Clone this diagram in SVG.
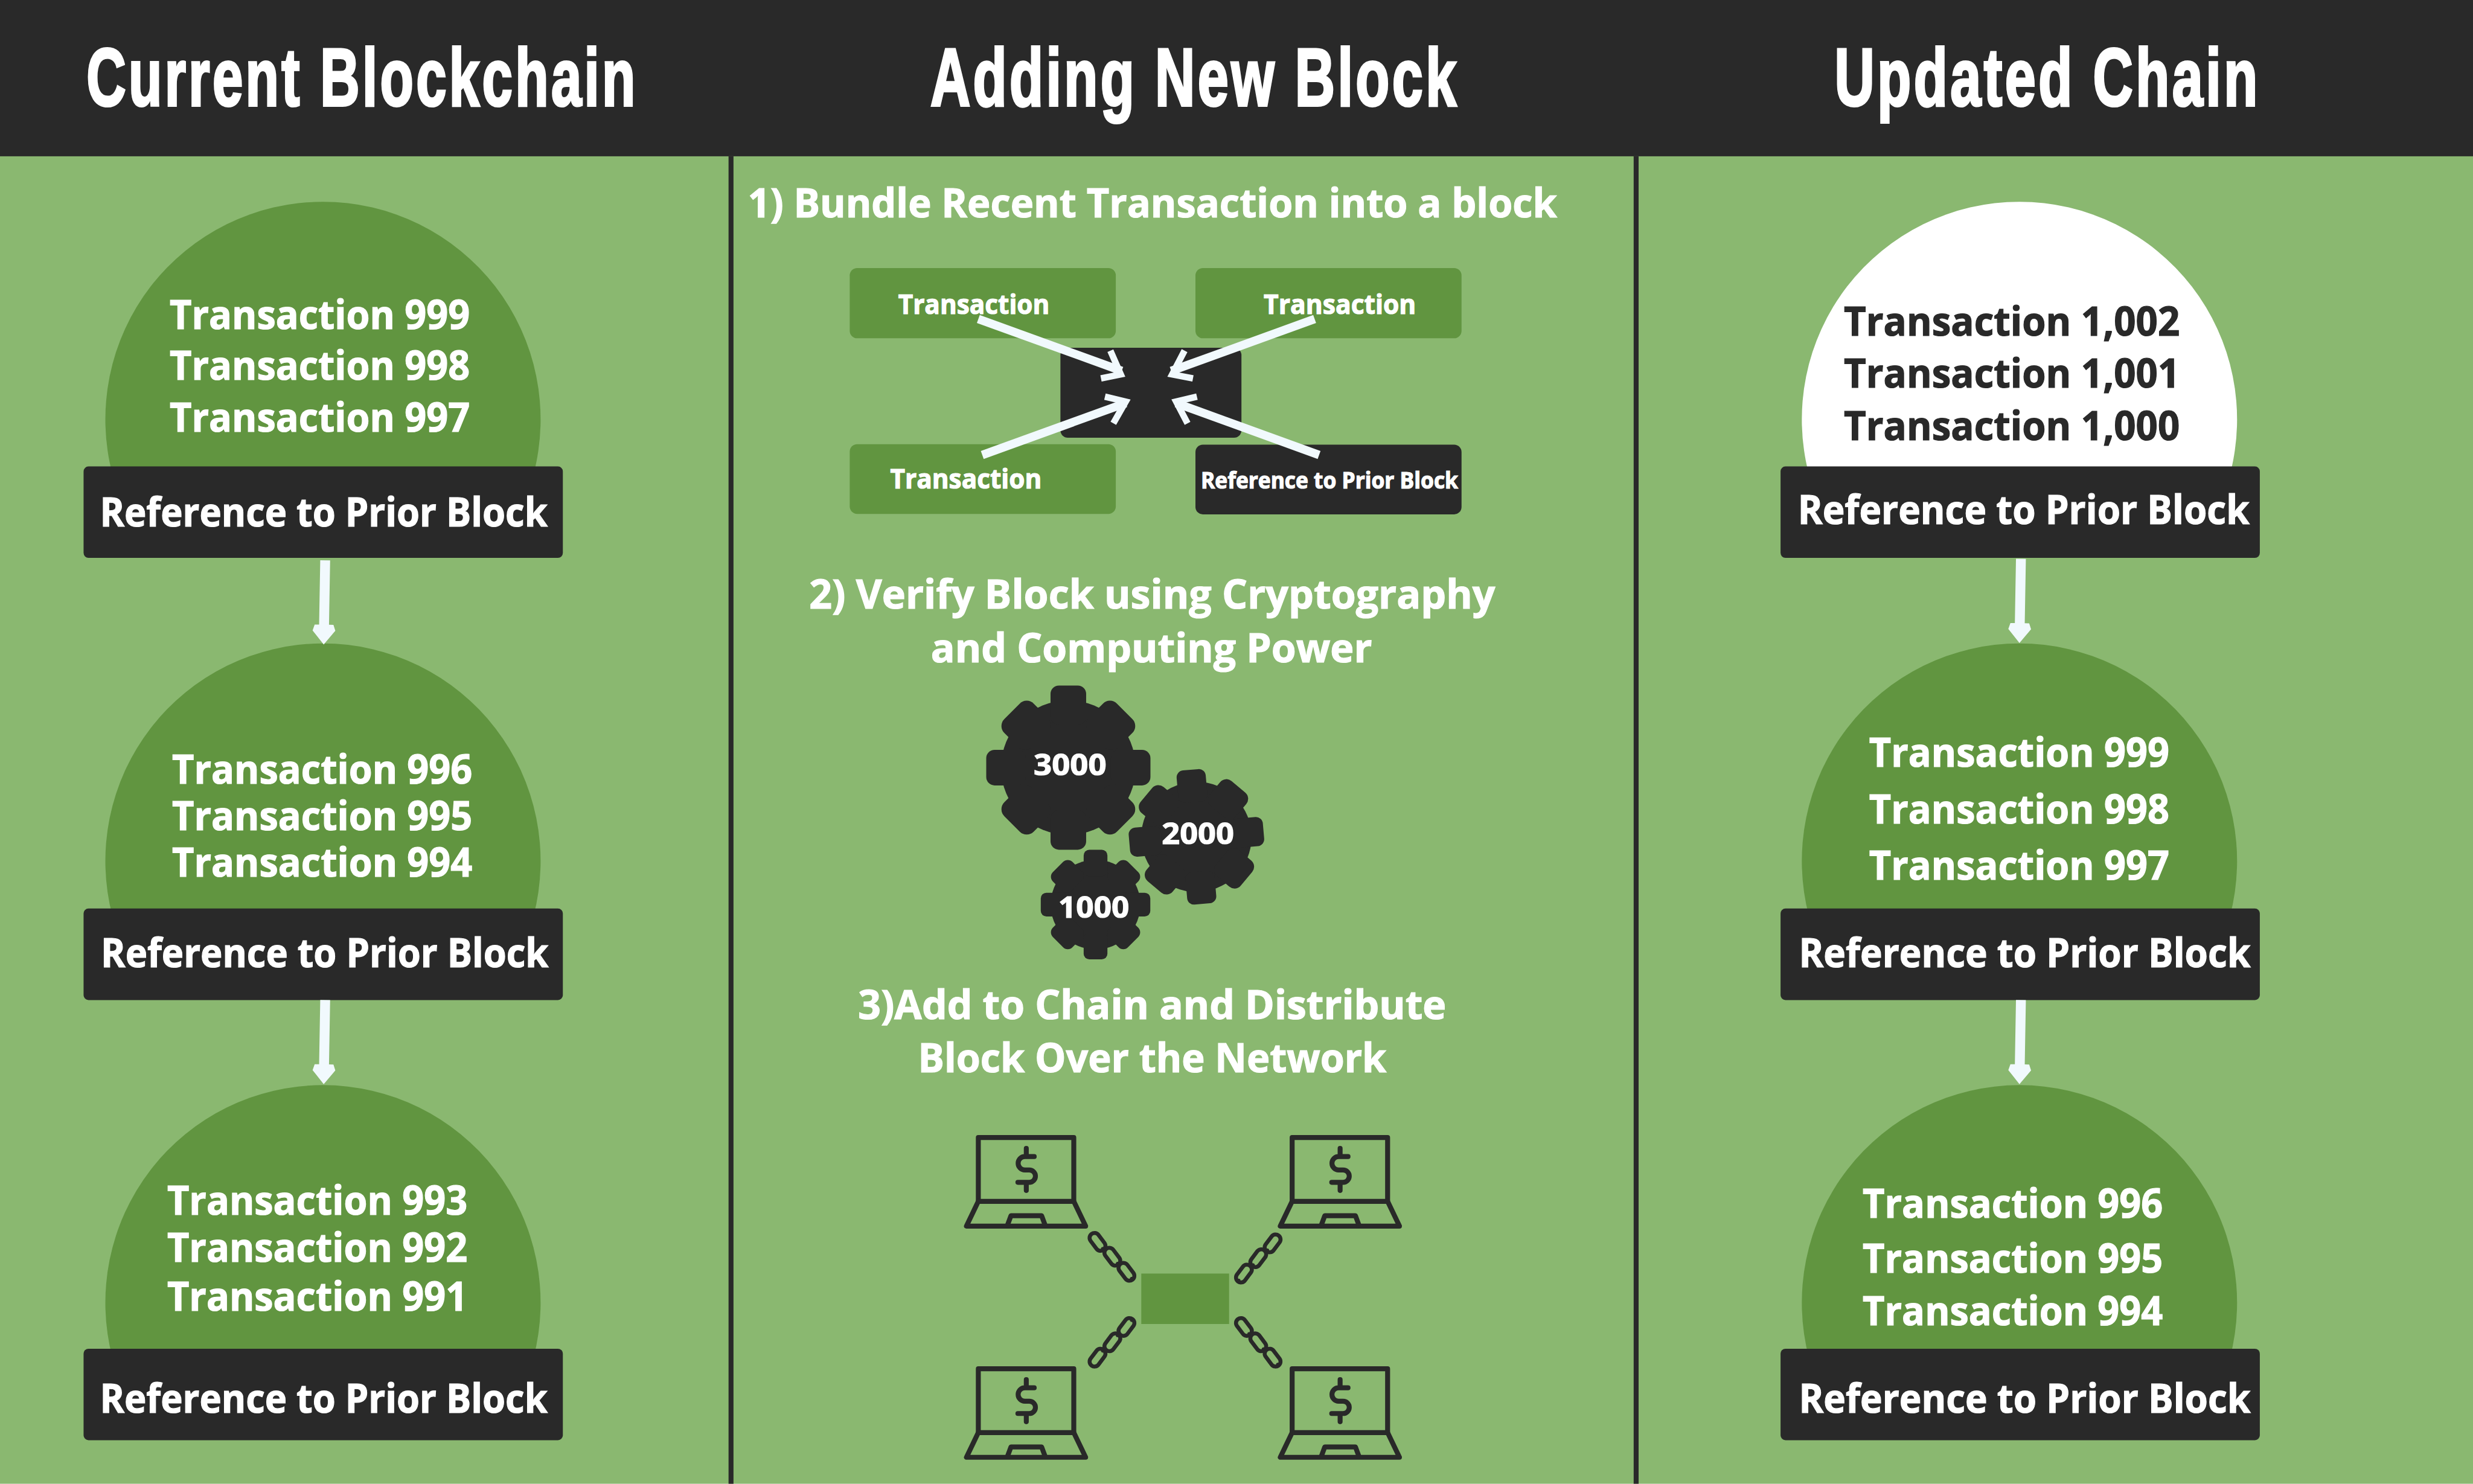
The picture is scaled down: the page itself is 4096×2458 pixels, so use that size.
<svg xmlns="http://www.w3.org/2000/svg" xmlns:xlink="http://www.w3.org/1999/xlink" width="4096" height="2458" viewBox="0 0 4096 2458">
<style>
.d{fill:#292929}.g{fill:#619540}
text{font-family:"Open Sans","Noto Sans","Liberation Sans",sans-serif;font-weight:700;fill:#fff;stroke:#fff;stroke-width:1.5px}
.t{font-size:81px}.h{font-size:82px}
text.dk{fill:#292929;stroke:#292929}
text.title{font-family:"Liberation Sans Narrow","Liberation Sans",Arial,sans-serif;font-size:166px;stroke-width:5px;letter-spacing:8px}
.s{font-size:55px}.xs{font-size:45px}.n{font-size:60px}
.a{fill:none;stroke:#f1f9fd;stroke-width:17}
.b{fill:none;stroke:#f1f9fd;stroke-width:13;stroke-miterlimit:8}
.l{fill:none;stroke:#292929;stroke-width:10;stroke-linejoin:round;stroke-linecap:round}
.c{fill:none;stroke:#292929;stroke-width:8}
</style>
<defs>
<path id="dome" d="M-425.5 112A440 440 0 1 1 425.5 112Z"/>
<g id="gear">
<circle r="136"/>
<rect x="-36" y="-166" width="72" height="80" rx="17"/>
<rect x="-42" y="-161" width="84" height="80" rx="20" transform="rotate(45)"/>
<rect x="-36" y="-166" width="72" height="80" rx="17" transform="rotate(90)"/>
<rect x="-42" y="-161" width="84" height="80" rx="20" transform="rotate(135)"/>
<rect x="-36" y="-166" width="72" height="80" rx="17" transform="rotate(180)"/>
<rect x="-42" y="-161" width="84" height="80" rx="20" transform="rotate(225)"/>
<rect x="-36" y="-166" width="72" height="80" rx="17" transform="rotate(270)"/>
<rect x="-42" y="-161" width="84" height="80" rx="20" transform="rotate(315)"/>
</g>
<g id="laptop" class="l">
<rect x="1978" y="2300" width="193" height="129"/>
<path d="M1978 2429L1954 2479H2195L2171 2429"/>
<path d="M2037 2477L2044 2458H2106L2113 2477"/>
<path d="M2091 2338.5H2072A13.5 13.5 0 0 0 2072 2365.5H2081A12.5 12.5 0 0 1 2081 2390.5H2058M2075 2322V2338M2075 2391V2407" stroke-width="10"/>
</g>
<g id="link" class="c">
<rect x="-20" y="-10" width="40" height="20" rx="10"/>
<path d="M16 -4a5 5 0 0 1 0 8"/>
</g>
<g id="arrow-down">
<path d="M-10 -170L10 -170L10 -40H19L23 -28L0 0L-23 -28L-19 -40H-10Z" fill="#f1f9fd"/>
</g>
</defs>
<g transform="scale(0.8192)">
<rect id="background" width="5000" height="3000" fill="#8ab870"/>
<rect id="header" class="d" width="5000" height="316"/>
<rect id="divider-1" class="d" x="1473" y="316" width="10" height="2684"/>
<rect id="divider-2" class="d" x="3303" y="316" width="10" height="2684"/>
<text class="title" x="175" y="214" textLength="1115" lengthAdjust="spacingAndGlyphs">Current Blockchain</text>
<text class="title" x="1881" y="214" textLength="1069" lengthAdjust="spacingAndGlyphs">Adding New Block</text>
<text class="title" x="3709" y="214" textLength="861" lengthAdjust="spacingAndGlyphs">Updated Chain</text>

<g id="block-l1"><use href="#dome" class="g" x="653" y="848"/>
<rect class="d" x="169" y="943" width="969" height="185" rx="10"/>
<text class="t" x="343" y="665" textLength="607" lengthAdjust="spacingAndGlyphs">Transaction 999</text>
<text class="t" x="343" y="768" textLength="607" lengthAdjust="spacingAndGlyphs">Transaction 998</text>
<text class="t" x="343" y="873" textLength="607" lengthAdjust="spacingAndGlyphs">Transaction 997</text>
<text class="t" x="202" y="1064" textLength="905" lengthAdjust="spacingAndGlyphs">Reference to Prior Block</text></g>
<g id="block-l2"><use href="#dome" class="g" x="653" y="1741"/>
<rect class="d" x="169" y="1837" width="969" height="185" rx="10"/>
<text class="t" x="348" y="1585" textLength="607" lengthAdjust="spacingAndGlyphs">Transaction 996</text>
<text class="t" x="348" y="1678" textLength="607" lengthAdjust="spacingAndGlyphs">Transaction 995</text>
<text class="t" x="348" y="1773" textLength="607" lengthAdjust="spacingAndGlyphs">Transaction 994</text>
<text class="t" x="204" y="1955" textLength="905" lengthAdjust="spacingAndGlyphs">Reference to Prior Block</text></g>
<g id="block-l3"><use href="#dome" class="g" x="653" y="2634"/>
<rect class="d" x="169" y="2727" width="969" height="185" rx="10"/>
<text class="t" x="338" y="2456" textLength="607" lengthAdjust="spacingAndGlyphs">Transaction 993</text>
<text class="t" x="338" y="2551" textLength="607" lengthAdjust="spacingAndGlyphs">Transaction 992</text>
<text class="t" x="338" y="2650" textLength="607" lengthAdjust="spacingAndGlyphs">Transaction 991</text>
<text class="t" x="202" y="2857" textLength="905" lengthAdjust="spacingAndGlyphs">Reference to Prior Block</text></g>

<g id="block-r1"><use href="#dome" fill="#fff" x="4083" y="848"/>
<rect class="d" x="3600" y="943" width="969" height="185" rx="10"/>
<text class="t dk" x="3728" y="679" textLength="679" lengthAdjust="spacingAndGlyphs">Transaction 1,002</text>
<text class="t dk" x="3728" y="784" textLength="679" lengthAdjust="spacingAndGlyphs">Transaction 1,001</text>
<text class="t dk" x="3728" y="890" textLength="679" lengthAdjust="spacingAndGlyphs">Transaction 1,000</text>
<text class="t" x="3635" y="1059" textLength="913" lengthAdjust="spacingAndGlyphs">Reference to Prior Block</text></g>
<g id="block-r2"><use href="#dome" class="g" x="4083" y="1741"/>
<rect class="d" x="3600" y="1837" width="969" height="185" rx="10"/>
<text class="t" x="3779" y="1550" textLength="607" lengthAdjust="spacingAndGlyphs">Transaction 999</text>
<text class="t" x="3779" y="1665" textLength="607" lengthAdjust="spacingAndGlyphs">Transaction 998</text>
<text class="t" x="3779" y="1779" textLength="607" lengthAdjust="spacingAndGlyphs">Transaction 997</text>
<text class="t" x="3637" y="1955" textLength="913" lengthAdjust="spacingAndGlyphs">Reference to Prior Block</text></g>
<g id="block-r3"><use href="#dome" class="g" x="4083" y="2634"/>
<rect class="d" x="3600" y="2727" width="969" height="185" rx="10"/>
<text class="t" x="3766" y="2462" textLength="607" lengthAdjust="spacingAndGlyphs">Transaction 996</text>
<text class="t" x="3766" y="2573" textLength="607" lengthAdjust="spacingAndGlyphs">Transaction 995</text>
<text class="t" x="3766" y="2679" textLength="607" lengthAdjust="spacingAndGlyphs">Transaction 994</text>
<text class="t" x="3637" y="2857" textLength="913" lengthAdjust="spacingAndGlyphs">Reference to Prior Block</text></g>

<g id="steps">
<text class="h" x="1512" y="440" textLength="1636" lengthAdjust="spacingAndGlyphs">1) Bundle Recent Transaction into a block</text>
<text class="h" x="1636" y="1231" textLength="1387" lengthAdjust="spacingAndGlyphs">2) Verify Block using Cryptography</text>
<text class="h" x="1882" y="1339" textLength="892" lengthAdjust="spacingAndGlyphs">and Computing Power</text>
<text class="h" x="1735" y="2060" textLength="1189" lengthAdjust="spacingAndGlyphs">3)Add to Chain and Distribute</text>
<text class="h" x="1856" y="2168" textLength="947" lengthAdjust="spacingAndGlyphs">Block Over the Network</text>
</g>

<g id="tx-1"><rect class="g" x="1718" y="542" width="538" height="142" rx="15"/><text class="s" x="1816" y="635" textLength="306" lengthAdjust="spacingAndGlyphs">Transaction</text></g>
<g id="tx-2"><rect class="g" x="2417" y="542" width="538" height="142" rx="15"/><text class="s" x="2555" y="635" textLength="308" lengthAdjust="spacingAndGlyphs">Transaction</text></g>
<g id="tx-3"><rect class="g" x="1718" y="898" width="538" height="141" rx="15"/><text class="s" x="1800" y="987" textLength="306" lengthAdjust="spacingAndGlyphs">Transaction</text></g>
<g id="ref-small"><rect class="d" x="2417" y="899" width="538" height="141" rx="15"/><text class="xs" x="2428" y="987" textLength="520" lengthAdjust="spacingAndGlyphs">Reference to Prior Block</text></g>
<rect id="new-block" class="d" x="2144" y="703" width="366" height="182" rx="15"/>

<g id="gear-3000"><use href="#gear" class="d" transform="translate(2160 1552)"/><text class="n" x="2090" y="1567" textLength="147" lengthAdjust="spacingAndGlyphs">3000</text></g>
<g id="gear-2000"><use href="#gear" class="d" transform="translate(2419 1692) rotate(-5) scale(.82)"/><text class="n" x="2349" y="1707" textLength="146" lengthAdjust="spacingAndGlyphs">2000</text></g>
<g id="gear-1000"><use href="#gear" class="d" transform="translate(2215 1829) scale(.667)"/><text class="n" x="2140" y="1856" textLength="143" lengthAdjust="spacingAndGlyphs">1000</text></g>

<g id="laptop-1"><use href="#laptop"/></g>
<g id="laptop-2"><use href="#laptop" x="634.5"/></g>
<g id="laptop-3"><use href="#laptop" y="467.5"/></g>
<g id="laptop-4"><use href="#laptop" x="634.5" y="467.5"/></g>
<rect id="network-block" class="g" x="2307.5" y="2575" width="177.5" height="102"/>

<g id="connectors">
<g id="chain-arrows">
<use href="#arrow-down" transform="translate(654.5 1303) rotate(1)"/>
<use href="#arrow-down" transform="translate(654.5 2192) rotate(1)"/>
<use href="#arrow-down" transform="translate(4083 1300) rotate(1)"/>
<use href="#arrow-down" transform="translate(4083 2192) rotate(1)"/>
</g>
<g id="bundle-arrows">
<path class="a" d="M1978 645L2268 750"/>
<path class="b" d="M2245 709L2266 757L2226 765"/>
<path class="a" d="M2658 645L2368 750"/>
<path class="b" d="M2395 709L2370 757L2412 765"/>
<path class="a" d="M1986 920L2276 815"/>
<path class="b" d="M2234 802L2276 812L2251 856"/>
<path class="a" d="M2667 920L2378 815"/>
<path class="b" d="M2420 802L2378 812L2401 856"/>
</g>
<g id="chains">
<g transform="rotate(53 2219 2511)"><use href="#link" x="2219" y="2511"/></g>
<g transform="rotate(53 2249 2541)"><use href="#link" x="2249" y="2541"/></g>
<g transform="rotate(53 2277.5 2571.5)"><use href="#link" x="2277.5" y="2571.5"/></g>
<g transform="rotate(127 2573 2514)"><use href="#link" x="2573" y="2514"/></g>
<g transform="rotate(127 2544 2544)"><use href="#link" x="2544" y="2544"/></g>
<g transform="rotate(127 2515 2575)"><use href="#link" x="2515" y="2575"/></g>
<g transform="rotate(-53 2219 2745)"><use href="#link" x="2219" y="2745"/></g>
<g transform="rotate(-53 2249 2714)"><use href="#link" x="2249" y="2714"/></g>
<g transform="rotate(-53 2277.5 2683)"><use href="#link" x="2277.5" y="2683"/></g>
<g transform="rotate(53 2515 2683)"><use href="#link" x="2515" y="2683"/></g>
<g transform="rotate(53 2544 2714)"><use href="#link" x="2544" y="2714"/></g>
<g transform="rotate(53 2573 2745)"><use href="#link" x="2573" y="2745"/></g>
</g>
</g>
</g>
</svg>
